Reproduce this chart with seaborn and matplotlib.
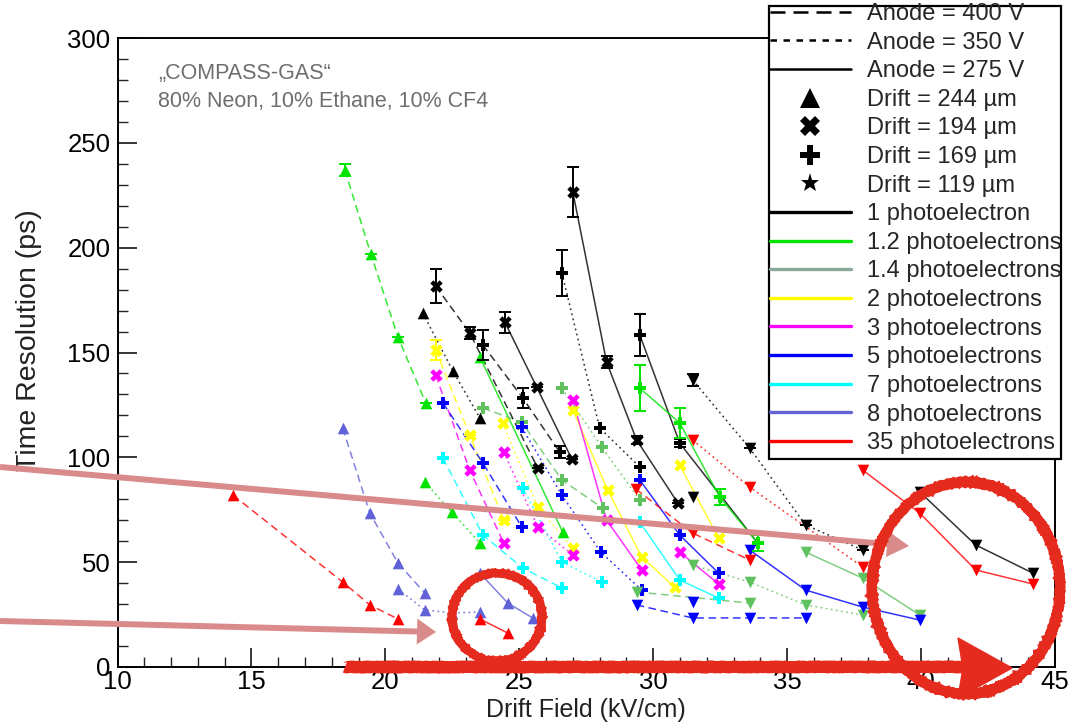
import math
import matplotlib
matplotlib.use("Agg")
import matplotlib.pyplot as plt
from matplotlib import font_manager
from matplotlib.lines import Line2D
from matplotlib.patches import Ellipse, Polygon, Rectangle
import seaborn as sns

# ---------------------------------------------------------------- data
# Drift field (kV/cm) and time resolution (ps) per measurement series.
# Naming: <photoelectrons>_<drift gap marker>_<anode voltage>

# Drift gap 244 um (triangles)
pe12_t400_x = [18.49, 19.46, 20.47, 21.51]
pe12_t400_y = [237.0, 196.9, 157.4, 125.9]
pe12_t400_e = [3, 0, 0, 0]
pe12_t350_x = [21.47, 22.48, 23.53]
pe12_t350_y = [88.2, 73.9, 59.1]
pe12_t275_x = [23.53, 26.62]
pe12_t275_y = [147.8, 64.4]
pe1_t350_x = [21.40, 22.52, 23.53]
pe1_t350_y = [168.8, 141.2, 118.7]
pe8_t400_x = [18.41, 19.42, 20.47, 21.47]
pe8_t400_y = [113.9, 73.4, 49.6, 35.3]
pe8_t350_x = [20.47, 21.47, 22.48, 23.53]
pe8_t350_y = [37.2, 27.2, 25.8, 26.2]
pe8_t275_x = [23.53, 24.57, 25.50]
pe8_t275_y = [44.8, 30.5, 23.4]
pe35_t400_x = [14.31, 18.41, 19.42, 20.47]
pe35_t400_y = [82.0, 40.5, 29.6, 22.9]
pe35_t275_x = [23.53, 24.57]
pe35_t275_y = [22.9, 16.2]

# Drift gap 194 um (crosses)
pe1_x400_x = [21.88, 23.15, 25.69]
pe1_x400_y = [181.7, 159.3, 94.9]
pe1_x400_e = [8, 3, 0]
pe1_x275a_x = [24.46, 25.65, 26.96]
pe1_x275a_y = [164.5, 133.5, 99.2]
pe1_x275a_e = [5, 0, 0]
pe1_x275b_x = [27.00, 28.26, 29.38, 30.92]
pe1_x275b_y = [226.5, 145.4, 108.3, 78.2]
pe1_x275b_e = [12, 3, 2, 0]
pe2_x400_x = [21.88, 23.15, 24.42]
pe2_x400_y = [151.2, 110.6, 70.1]
pe2_x400_e = [5, 0, 0]
pe2_x350_x = [24.38, 25.69, 27.00]
pe2_x350_y = [116.4, 76.3, 56.7]
pe2_x275a_x = [27.00, 28.30, 29.57, 30.80]
pe2_x275a_y = [122.6, 84.4, 52.5, 38.1]
pe2_x275b_x = [30.99, 32.44]
pe2_x275b_y = [96.3, 61.5]
pe3_x400_x = [21.88, 23.15, 24.42]
pe3_x400_y = [139.2, 93.9, 59.1]
pe3_x350_x = [24.42, 25.69, 27.00]
pe3_x350_y = [102.5, 66.8, 53.4]
pe3_x275a_x = [27.00, 28.26, 29.57]
pe3_x275a_y = [127.3, 70.1, 46.3]
pe3_x275b_x = [30.99, 32.44]
pe3_x275b_y = [54.8, 39.6]

# Drift gap 169 um (plus signs)
pe1_p400_x = [23.64, 25.13, 26.51]
pe1_p400_y = [153.6, 128.3, 102.5]
pe1_p400_e = [7, 5, 3]
pe1_p350_x = [26.59, 28.00, 29.50]
pe1_p350_y = [187.9, 114.0, 95.4]
pe1_p350_e = [11, 0, 0]
pe1_p275_x = [29.50, 30.99, 33.90]
pe1_p275_y = [158.3, 106.8, 59.1]
pe1_p275_e = [10, 2, 0]
pe12_p275_x = [29.50, 30.99, 32.48, 33.90]
pe12_p275_y = [133.0, 116.4, 81.1, 59.1]
pe12_p275_e = [11, 7, 4, 4]
pe14_p400_x = [23.64, 25.09, 26.59, 28.11]
pe14_p400_y = [123.5, 116.8, 89.2, 75.8]
pe14_p350_x = [26.59, 28.08, 29.50]
pe14_p350_y = [133.0, 104.9, 79.6]
pe5_p400_x = [22.15, 23.64, 25.09]
pe5_p400_y = [125.9, 97.3, 66.8]
pe5_p350_x = [25.09, 26.59, 28.04, 29.57]
pe5_p350_y = [114.4, 82.0, 54.8, 36.7]
pe5_p275_x = [29.50, 30.99, 32.44]
pe5_p275_y = [89.2, 62.9, 44.8]
pe7_p400_x = [22.15, 23.64, 25.13, 26.59]
pe7_p400_y = [99.7, 62.9, 47.2, 37.7]
pe7_p350_x = [25.13, 26.59, 28.08]
pe7_p350_y = [85.4, 50.1, 40.5]
pe7_p275_x = [29.50, 30.99, 32.44]
pe7_p275_y = [69.1, 41.5, 32.9]

# Drift gap 119 um (drawn as inverted triangles)
pe1_v350_x = [31.47, 33.60, 35.69, 37.82]
pe1_v350_y = [136.9, 104.4, 67.7, 55.8]
pe1_v350_e = [3, 0, 0, 0]
pe1_v275_x = [39.95, 42.04, 44.17]
pe1_v275_y = [83.5, 58.2, 44.8]
pe1_v400_x = [31.47]
pe1_v400_y = [81.1]
pe35_v400_x = [29.35, 31.47, 33.60]
pe35_v400_y = [84.9, 63.9, 51.0]
pe35_v350_x = [31.47, 33.60, 37.82]
pe35_v350_y = [108.3, 85.8, 47.7]
pe35_v275_x = [37.82, 39.95, 42.04, 44.17]
pe35_v275_y = [93.9, 73.4, 46.3, 39.6]
pe14_v275_x = [35.69, 37.82, 39.95]
pe14_v275_y = [54.8, 42.4, 24.8]
pe14_v400_x = [29.38, 33.60]
pe14_v400_y = [35.8, 30.5]
pe14_v350_x = [31.47, 33.60, 35.69, 37.82]
pe14_v350_y = [48.6, 40.5, 29.6, 24.8]
pe5_v275_x = [33.60, 35.69, 37.82, 39.95]
pe5_v275_y = [55.8, 36.7, 28.6, 22.4]
pe5_v400_x = [29.38, 31.47, 33.60, 35.69]
pe5_v400_y = [29.6, 23.4, 23.4, 23.4]
pe5_v350_x = [31.47]
pe5_v350_y = [31.0]

anode_labels = ["Anode = 400 V", "Anode = 350 V", "Anode = 275 V"]
drift_labels = ["Drift = 244 \u00b5m", "Drift = 194 \u00b5m",
                "Drift = 169 \u00b5m", "Drift = 119 \u00b5m"]
pe_labels = ["1 photoelectron", "1.2 photoelectrons", "1.4 photoelectrons",
             "2 photoelectrons", "3 photoelectrons", "5 photoelectrons",
             "7 photoelectrons", "8 photoelectrons", "35 photoelectrons"]
note_lines = ["\u201eCOMPASS-GAS\u201c", "80% Neon, 10% Ethane, 10% CF4"]

# ---------------------------------------------------------------- style
C = {
    "1": "#000000", "1.2": "#00e400", "1.4": "#5fc25f", "2": "#ffff00",
    "3": "#ff00ff", "5": "#0000ff", "7": "#00ffff", "8": "#6262d8",
    "35": "#ff0000",
}
legend_colors = ["#000000", "#00e400", "#8aa89a", "#ffff00", "#ff00ff",
                 "#0000ff", "#00ffff", "#6262d8", "#ff0000"]
LS = {"400": (0, (5, 3)), "350": (0, (1.2, 2.2)), "275": "-"}
MK = {"t": "^", "x": "X", "p": "P", "v": "v"}
MS = {"t": 70, "x": 80, "p": 85, "v": 70}

sns.set_theme(style="ticks")
plt.rcParams["font.family"] = ["Liberation Sans", "DejaVu Sans"]
plt.rcParams["axes.linewidth"] = 1.3

try:
    font_manager.findfont("Liberation Sans Narrow", fallback_to_default=False)
    tick_family = "Liberation Sans Narrow"
except Exception:
    tick_family = "Liberation Sans"

W, H = 1076, 724
fig = plt.figure(figsize=(W / 100, H / 100), dpi=100)
fig.patch.set_facecolor("white")
ax = fig.add_axes([117.5 / W, (H - 667) / H, 937.5 / W, 629 / H])
ax.set_facecolor("white")


def series(x, y, pe, mk, volt, err=None):
    sns.lineplot(x=x, y=y, ax=ax, color=C[pe], linestyle=LS[volt], lw=1.1,
                 sort=False, estimator=None, alpha=0.8, legend=False, zorder=2)
    sns.scatterplot(x=x, y=y, ax=ax, color=C[pe], marker=MK[mk], s=MS[mk],
                    linewidth=0, legend=False, zorder=3)
    if err is not None:
        ax.errorbar(x, y, yerr=err, fmt="none", ecolor=C[pe], elinewidth=1.4,
                    capsize=4, capthick=1.4, zorder=3)


series(pe12_t400_x, pe12_t400_y, "1.2", "t", "400", pe12_t400_e)
series(pe12_t350_x, pe12_t350_y, "1.2", "t", "350")
series(pe12_t275_x, pe12_t275_y, "1.2", "t", "275")
series(pe1_t350_x, pe1_t350_y, "1", "t", "350")
series(pe8_t400_x, pe8_t400_y, "8", "t", "400")
series(pe8_t350_x, pe8_t350_y, "8", "t", "350")
series(pe8_t275_x, pe8_t275_y, "8", "t", "275")
series(pe35_t400_x, pe35_t400_y, "35", "t", "400")
series(pe35_t275_x, pe35_t275_y, "35", "t", "275")

series(pe2_x400_x, pe2_x400_y, "2", "x", "400", pe2_x400_e)
series(pe2_x350_x, pe2_x350_y, "2", "x", "350")
series(pe2_x275a_x, pe2_x275a_y, "2", "x", "275")
series(pe2_x275b_x, pe2_x275b_y, "2", "x", "275")
series(pe3_x400_x, pe3_x400_y, "3", "x", "400")
series(pe3_x350_x, pe3_x350_y, "3", "x", "350")
series(pe3_x275a_x, pe3_x275a_y, "3", "x", "275")
series(pe3_x275b_x, pe3_x275b_y, "3", "x", "275")

series(pe14_p400_x, pe14_p400_y, "1.4", "p", "400")
series(pe14_p350_x, pe14_p350_y, "1.4", "p", "350")
series(pe5_p400_x, pe5_p400_y, "5", "p", "400")
series(pe5_p350_x, pe5_p350_y, "5", "p", "350")
series(pe5_p275_x, pe5_p275_y, "5", "p", "275")
series(pe7_p400_x, pe7_p400_y, "7", "p", "400")
series(pe7_p350_x, pe7_p350_y, "7", "p", "350")
series(pe7_p275_x, pe7_p275_y, "7", "p", "275")

series(pe14_v275_x, pe14_v275_y, "1.4", "v", "275")
series(pe14_v400_x, pe14_v400_y, "1.4", "v", "400")
series(pe14_v350_x, pe14_v350_y, "1.4", "v", "350")
series(pe5_v275_x, pe5_v275_y, "5", "v", "275")
series(pe5_v400_x, pe5_v400_y, "5", "v", "400")
series(pe5_v350_x, pe5_v350_y, "5", "v", "350")
series(pe35_v400_x, pe35_v400_y, "35", "v", "400")
series(pe35_v350_x, pe35_v350_y, "35", "v", "350")
series(pe35_v275_x, pe35_v275_y, "35", "v", "275")

series(pe1_x400_x, pe1_x400_y, "1", "x", "400", pe1_x400_e)
series(pe1_x275a_x, pe1_x275a_y, "1", "x", "275", pe1_x275a_e)
series(pe1_x275b_x, pe1_x275b_y, "1", "x", "275", pe1_x275b_e)
series(pe1_p400_x, pe1_p400_y, "1", "p", "400", pe1_p400_e)
series(pe1_p350_x, pe1_p350_y, "1", "p", "350", pe1_p350_e)
series(pe1_p275_x, pe1_p275_y, "1", "p", "275", pe1_p275_e)
series(pe12_p275_x, pe12_p275_y, "1.2", "p", "275", pe12_p275_e)
series(pe1_v350_x, pe1_v350_y, "1", "v", "350", pe1_v350_e)
series(pe1_v275_x, pe1_v275_y, "1", "v", "275")
series(pe1_v400_x, pe1_v400_y, "1", "v", "400")

# ---------------------------------------------------------------- axes
ax.set_xlim(10, 45)
ax.set_ylim(0, 300)
ax.xaxis.set_major_locator(matplotlib.ticker.MultipleLocator(5))
ax.xaxis.set_minor_locator(matplotlib.ticker.MultipleLocator(1))
ax.yaxis.set_major_locator(matplotlib.ticker.MultipleLocator(50))
ax.yaxis.set_minor_locator(matplotlib.ticker.MultipleLocator(10))
ax.tick_params(which="major", direction="in", length=14, width=1.1,
               top=False, right=False, labelsize=18.5, pad=5,
               labelfontfamily=tick_family, colors="black")
ax.tick_params(axis="x", which="major", pad=2)
ax.tick_params(which="minor", direction="in", length=7, width=1.0,
               top=False, right=False)
for s in ax.spines.values():
    s.set_color("black")
    s.set_linewidth(1.4)
ax.set_xlabel("Drift Field (kV/cm)", fontsize=18, color="#222222")
ax.set_ylabel("Time Resolution (ps)", fontsize=20.5, color="#222222")
ax.xaxis.set_label_coords(0.5, -0.049)
ax.yaxis.set_label_coords(-0.08, 0.52)

for i, line in enumerate(note_lines):
    fig.text(158 / W, 1 - (74 + 27 * i) / H, line, fontsize=15.5,
             color="#6e6e6e", va="center", ha="left")

# ---------------------------------------------------------------- legend
handles = []
for ls in [(0, (6, 3.2)), (0, (2.6, 2.6)), "-"]:
    handles.append(Line2D([], [], color="black", lw=1.8, linestyle=ls))
for mk, ms in [("^", 15), ("X", 14), ("P", 14), ("*", 14)]:
    handles.append(Line2D([], [], color="black", lw=0, marker=mk,
                          markersize=ms, markeredgewidth=0))
for col in legend_colors:
    handles.append(Line2D([], [], color=col, lw=2.4))
labels = anode_labels + drift_labels + pe_labels

box = Rectangle((769 / W, 1 - 459 / H), (1061 - 769) / W, (459 - 6) / H,
                transform=fig.transFigure, facecolor="white",
                edgecolor="black", lw=1.6, zorder=8)
fig.add_artist(box)
leg = fig.legend(handles, labels, loc="upper left",
                 bbox_to_anchor=(770 / W, 1 - 3 / H), frameon=False,
                 fontsize=17, handlelength=3.43, handletextpad=0.68,
                 labelspacing=0.28, borderpad=0, borderaxespad=0)
leg.set_zorder(9)

# ---------------------------------------------------------------- markup
def px(x, y):
    return (x / W, 1 - y / H)


pink = "#d98a8a"
red = "#e52a1e"


def arrow(x0, y0, x1, y1, color, lw, head_len, head_half, z=10):
    dx, dy = x1 - x0, y1 - y0
    n = math.hypot(dx, dy)
    ux, uy = dx / n, dy / n
    bx, by = x1 - ux * head_len, y1 - uy * head_len
    fig.add_artist(Line2D([px(x0, y0)[0], px(bx, by)[0]],
                          [px(x0, y0)[1], px(bx, by)[1]],
                          transform=fig.transFigure, color=color, lw=lw,
                          solid_capstyle="butt", zorder=z))
    pts = [px(x1, y1), px(bx - uy * head_half, by + ux * head_half),
           px(bx + uy * head_half, by - ux * head_half)]
    fig.add_artist(Polygon(pts, closed=True, transform=fig.transFigure,
                           facecolor=color, edgecolor="none", zorder=z))


arrow(0, 467, 909, 546, pink, 4.3, 22, 13)
arrow(0, 621, 436, 632, pink, 4.3, 19, 13)

for cx, cy, w, h, lw in [(497, 617, 90, 88, 6.0), (966, 588, 188, 212, 7.2)]:
    e = Ellipse(px(cx, cy), w / W, h / H, transform=fig.transFigure,
                fill=False, edgecolor=red, lw=lw, zorder=10)
    e.set_sketch_params(scale=0.6, length=3, randomness=3)
    fig.add_artist(e)

band = Line2D([px(345, 667)[0], px(968, 667)[0]],
              [px(345, 667)[1], px(968, 667)[1]], transform=fig.transFigure,
              color=red, lw=8.5, solid_capstyle="butt", zorder=10)
band.set_sketch_params(scale=0.6, length=3, randomness=3)
fig.add_artist(band)
fig.add_artist(Polygon([px(1012, 668), px(958, 638), px(963, 668), px(958, 698)],
                       closed=True, transform=fig.transFigure, facecolor=red,
                       edgecolor=red, lw=1, zorder=10))

fig.savefig("out.png", dpi=100)
